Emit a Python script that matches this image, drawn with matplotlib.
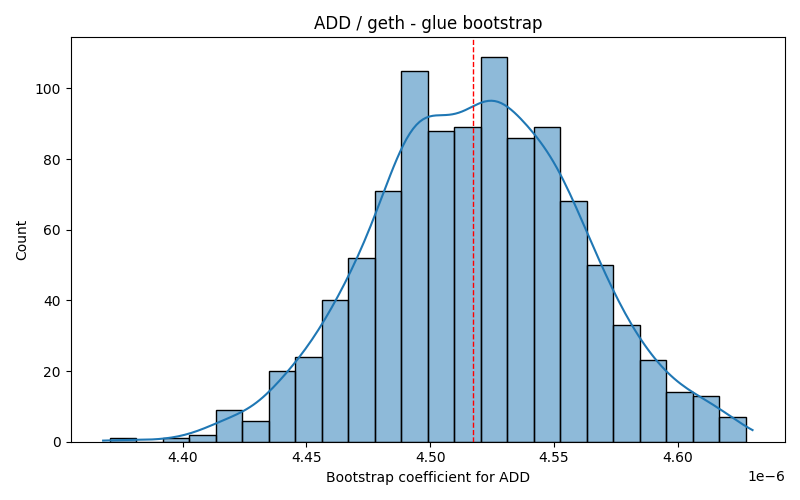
import numpy as np
import pandas as pd
import seaborn as sns
import matplotlib
matplotlib.use("Agg")
import matplotlib.pyplot as plt

# histogram (24 bins, 1000 bootstrap samples)
bin_lo = 4.3705e-6
bin_hi = 4.6276e-6
counts = [1, 0, 1, 2, 9, 6, 20, 24, 40, 52, 71, 105,
          88, 89, 109, 86, 89, 68, 50, 33, 23, 14, 13, 7]
point_estimate = 4.5174e-6

edges = np.linspace(bin_lo, bin_hi, len(counts) + 1)
df = pd.DataFrame({"coef": (edges[:-1] + edges[1:]) / 2, "n": counts})

# weighted kde uses the effective sample size; rescale to the real n
w = np.array(counts, dtype=float)
n = w.sum()
n_eff = n ** 2 / (w ** 2).sum()
bw_adj = (n / n_eff) ** -0.2 * np.sqrt(1 - 1 / n_eff)
mean = (df["coef"] * w).sum() / n
sd = np.sqrt(((df["coef"] - mean) ** 2 * w).sum() / n)
bw = sd * n ** -0.2
half_bin = (edges[1] - edges[0]) / 2

fig, ax = plt.subplots(figsize=(8, 5), dpi=100)
sns.histplot(data=df, x="coef", weights="n", bins=len(counts),
             binrange=(bin_lo, bin_hi), kde=True,
             kde_kws={"bw_adjust": bw_adj, "cut": 0.95 * half_bin / bw},
             edgecolor="black", ax=ax)
ax.axvline(point_estimate, color="red", linestyle="--", linewidth=1)

ax.set_title("ADD / geth - glue bootstrap")
ax.set_xlabel("Bootstrap coefficient for ADD")
ax.set_ylabel("Count")

fig.tight_layout()
fig.savefig("out.png")
